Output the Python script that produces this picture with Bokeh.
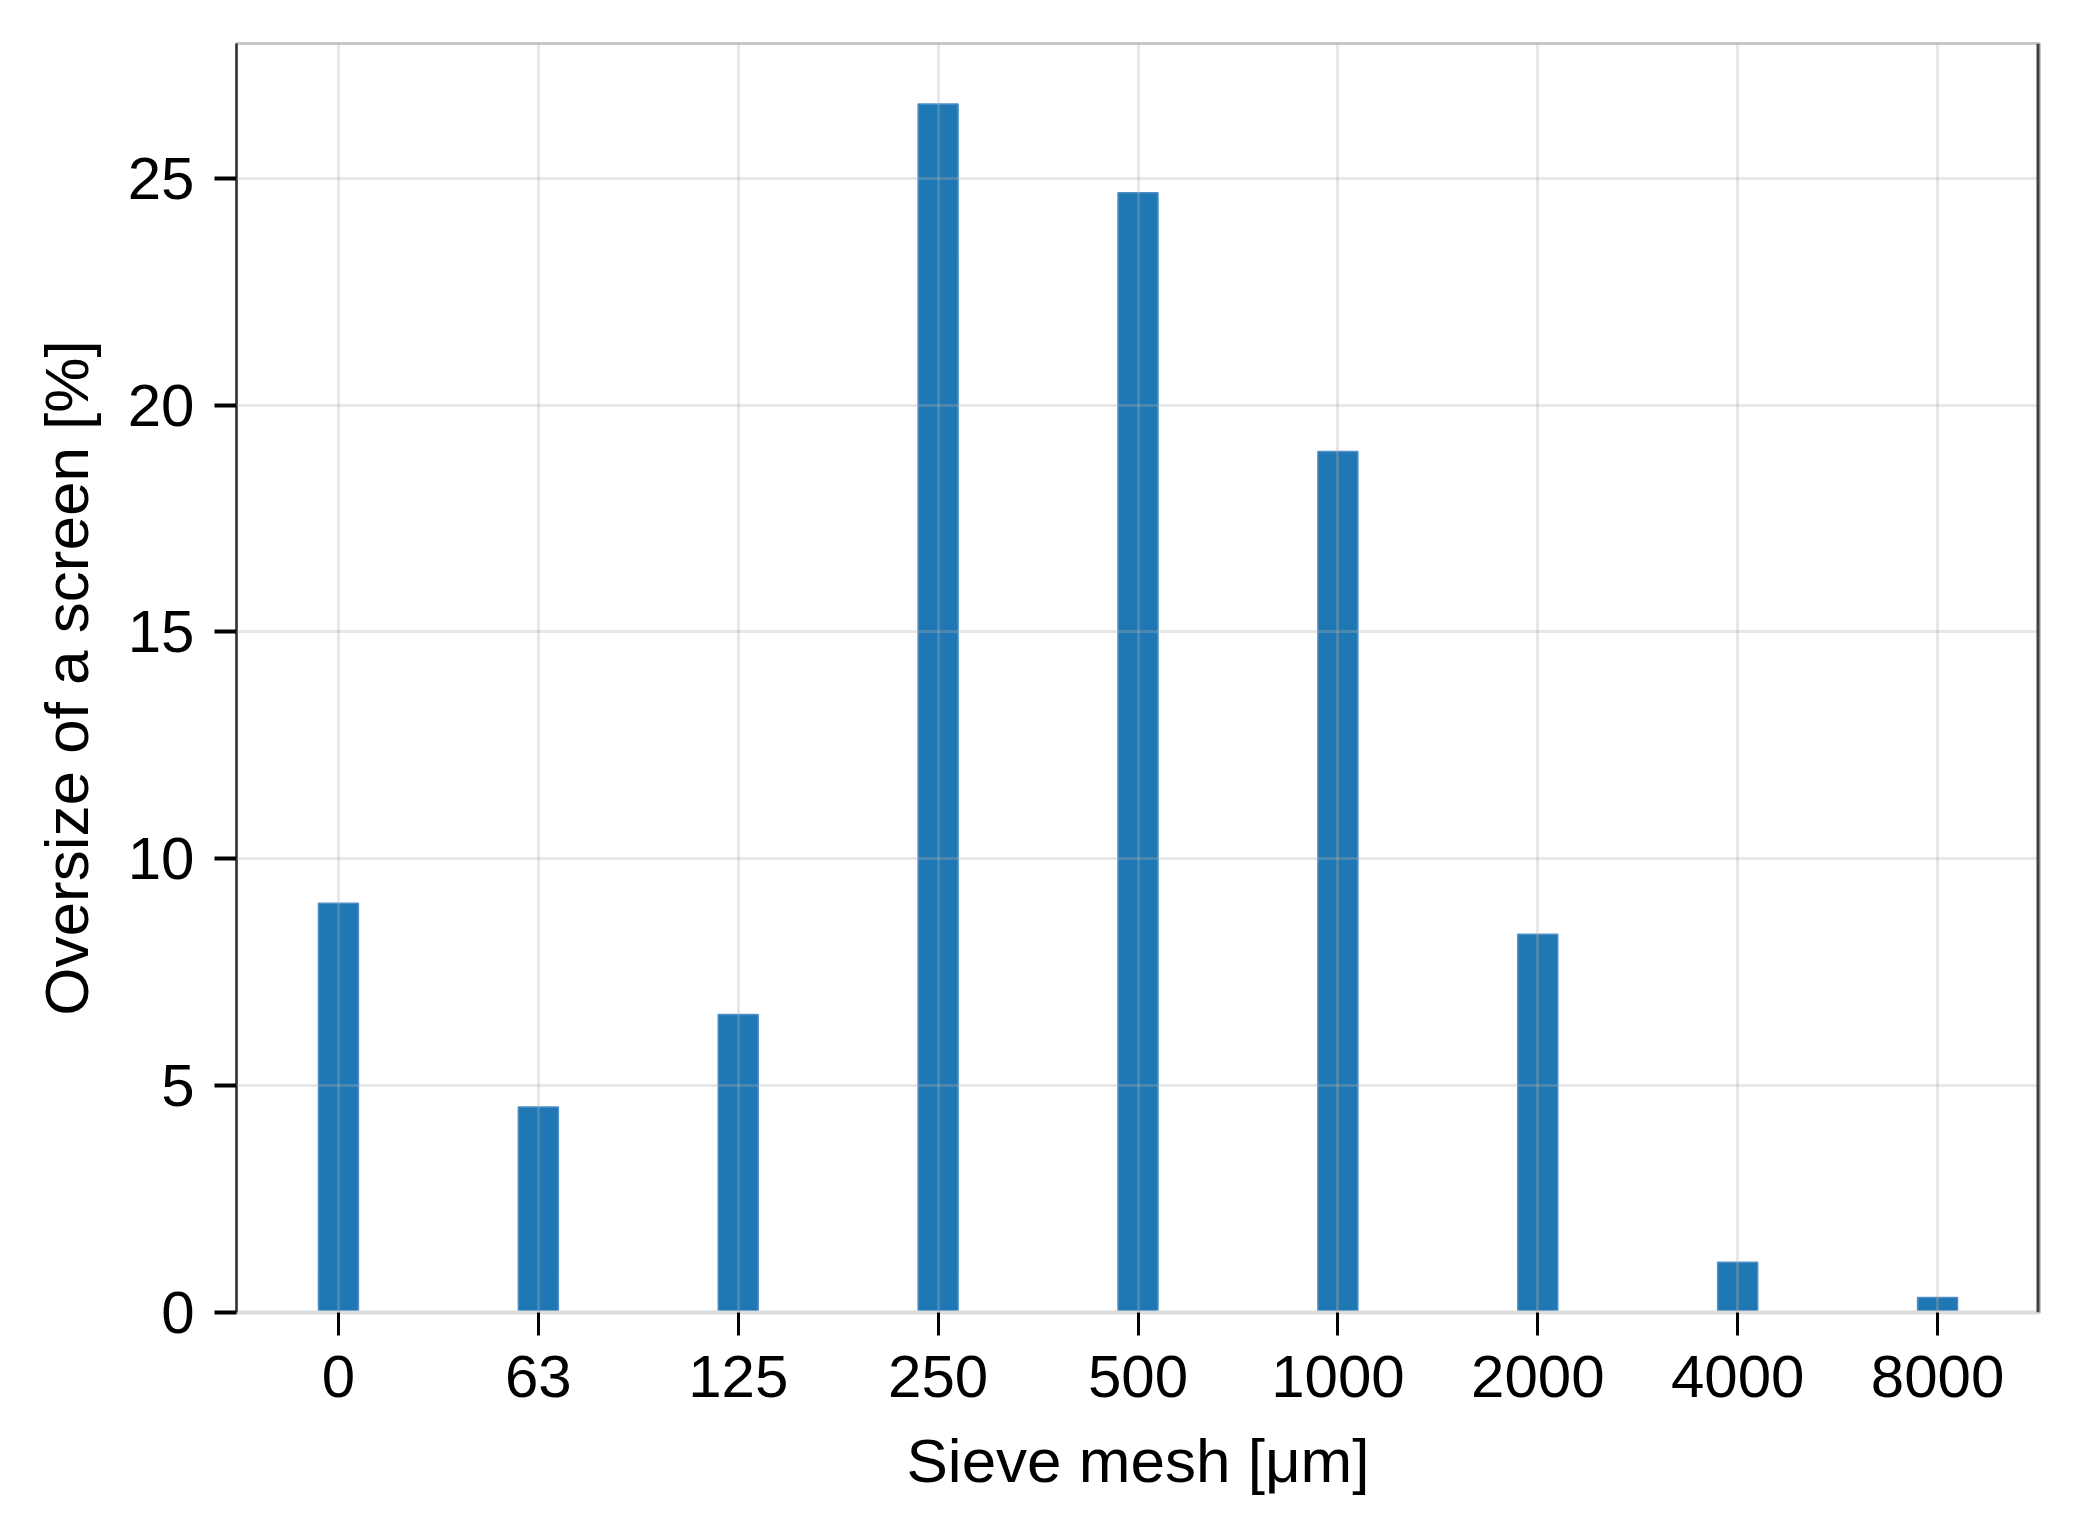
from bokeh.plotting import figure
from bokeh.models import Range1d, FixedTicker, Span
from bokeh.embed import file_html
from bokeh.resources import INLINE

# ---- data ----
sieve_labels = ["0", "63", "125", "250", "500", "1000", "2000", "4000", "8000"]
oversize_pct = [9.02, 4.53, 6.57, 26.64, 24.68, 18.98, 8.34, 1.11, 0.33]
y_ticks = [0, 5, 10, 15, 20, 25]

xs = list(range(len(sieve_labels)))
bar_w = 0.2
x_pad = 0.05 * ((len(xs) - 1) + bar_w)
x_start = -bar_w / 2 - x_pad
x_end = (len(xs) - 1) + bar_w / 2 + x_pad
y_end = max(oversize_pct) * 1.05

FONT = "Liberation Sans"

p = figure(width=2057, height=1512,
           x_range=Range1d(x_start, x_end), y_range=Range1d(0, y_end),
           output_backend="svg", toolbar_location=None,
           min_border_left=236, min_border_right=18,
           min_border_top=43, min_border_bottom=200)
p.background_fill_color = "white"
p.border_fill_color = "white"
p.outline_line_color = "#c8c8c8"
p.outline_line_width = 3

p.vbar(x=xs, top=oversize_pct, width=bar_w, bottom=0,
       fill_color="#1f77b4", line_color="#4f8fc6", line_width=1.5)

# grid over bars, semi-transparent
for g in (p.xgrid, p.ygrid):
    g.grid_line_color = "#b0b0b0"
    g.grid_line_alpha = 0.3
    g.grid_line_width = 3
    g.level = "overlay"
p.xgrid.ticker = FixedTicker(ticks=xs)
p.ygrid.ticker = FixedTicker(ticks=y_ticks)

# x axis
xa = p.xaxis[0]
xa.ticker = FixedTicker(ticks=xs)
xa.major_label_overrides = {i: l for i, l in zip(xs, sieve_labels)}
xa.axis_label = "Sieve mesh [\u03bcm]"
xa.axis_line_color = "#dcdcdc"
xa.axis_line_width = 4
xa.major_tick_line_color = "black"
xa.major_tick_line_width = 3
xa.major_tick_out = 23
xa.major_tick_in = 0
xa.minor_tick_line_color = None
xa.major_label_standoff = 20
xa.axis_label_standoff = 26

# y axis
ya = p.yaxis[0]
ya.ticker = FixedTicker(ticks=y_ticks)
ya.axis_label = "Oversize of a screen [%]"
ya.axis_line_color = "#333333"
ya.axis_line_width = 2.5
ya.major_tick_line_color = "black"
ya.major_tick_line_width = 4
ya.major_tick_out = 22
ya.major_tick_in = 0
ya.minor_tick_line_color = None
ya.major_label_standoff = 20
ya.axis_label_standoff = 24

for ax in (xa, ya):
    ax.major_label_text_font = FONT
    ax.major_label_text_font_size = "60px"
    ax.major_label_text_color = "black"
    ax.axis_label_text_font = FONT
    ax.axis_label_text_font_size = "62px"
    ax.axis_label_text_font_style = "normal"
    ax.axis_label_text_color = "black"

# right spine
p.add_layout(Span(location=x_end, dimension="height",
                  line_color="#404040", line_width=6, level="overlay"))

open("out.html", "w").write(file_html(p, INLINE))
